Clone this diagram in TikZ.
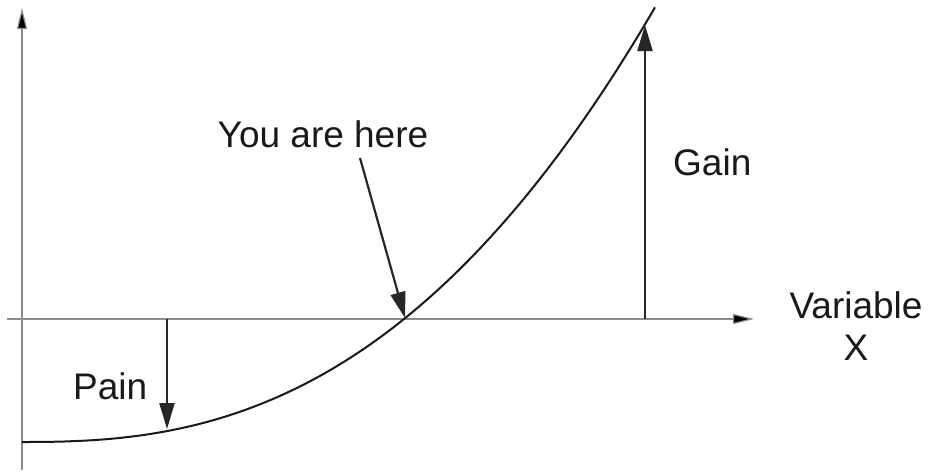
\documentclass[tikz,border=0pt]{standalone}
\usepackage{fontspec}
\setmainfont{Liberation Sans}
\usetikzlibrary{arrows.meta}
\begin{document}
\begin{tikzpicture}[x=1pt,y=-1pt,
  axis/.style={draw=black!45,line width=1.2pt,-{Triangle[length=21pt,width=10pt,fill=black]}},
  pointer/.style={draw=black!85,line width=2.2pt,-{Triangle[length=26pt,width=15pt]}},
  lbl/.style={font=\fontsize{37}{42}\selectfont,text=black!90,inner sep=0pt,anchor=base}]
\useasboundingbox (0,0) rectangle (940,472);
% axes
\coordinate (yb) at (22,470);
\coordinate (yt) at (22,8);
\coordinate (xl) at (7,319);
\coordinate (xr) at (754,319);
\draw[axis] (yb) -- (yt);
\draw[axis] (xl) -- (xr);
% curve
\draw[black!90,line width=2pt] plot[domain=22.001:655,samples=120,smooth] ({\x},{442-123*pow((\x-22)/382,2.5)});
% points on curve
\coordinate (gainbase) at (645,319);
\coordinate (gaintip) at (645,25);
\coordinate (painbase) at (167,319);
\coordinate (paintip) at (167,429);
\coordinate (youstart) at (360,158);
\coordinate (youtip) at (405,318);
\draw[pointer] (gainbase) -- (gaintip);
\draw[pointer] (painbase) -- (paintip);
\draw[pointer] (youstart) -- (youtip);
% labels
\node[lbl] (you) at (323,147) {You are here};
\node[lbl,anchor=base west] (gain) at (673,175) {Gain};
\node[lbl,anchor=base west] (pain) at (73,399) {Pain};
\node[lbl] (var) at (856,318) {Variable};
\node[lbl] (xx) at (856,360) {X};
\end{tikzpicture}
\end{document}
